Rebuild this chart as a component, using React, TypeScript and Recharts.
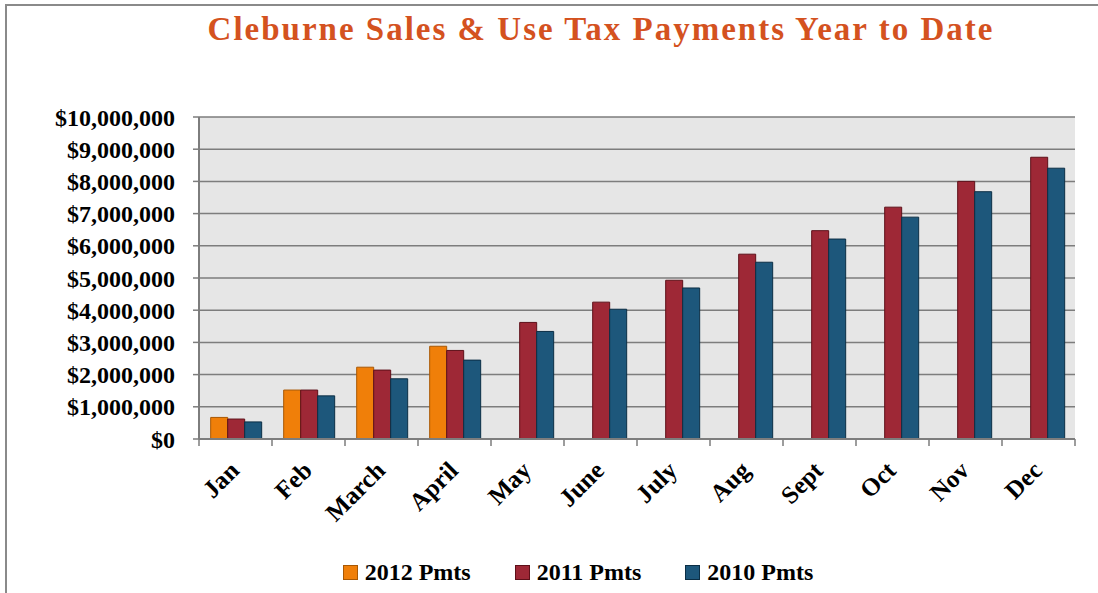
import React from 'react';
import { BarChart, Bar, XAxis, YAxis, CartesianGrid } from 'recharts';

const months = ['Jan', 'Feb', 'March', 'April', 'May', 'June', 'July', 'Aug', 'Sept', 'Oct', 'Nov', 'Dec'];
const pmts2012 = [670000, 1520000, 2230000, 2880000, null, null, null, null, null, null, null, null];
const pmts2011 = [620000, 1520000, 2140000, 2750000, 3620000, 4250000, 4930000, 5740000, 6470000, 7200000, 8000000, 8750000];
const pmts2010 = [530000, 1340000, 1870000, 2450000, 3340000, 4030000, 4690000, 5490000, 6210000, 6890000, 7680000, 8410000];
const yTicks = [0, 1000000, 2000000, 3000000, 4000000, 5000000, 6000000, 7000000, 8000000, 9000000, 10000000];

const series = [
  { key: 'p2012', name: '2012 Pmts', fill: '#F07F09', stroke: '#A85804' },
  { key: 'p2011', name: '2011 Pmts', fill: '#9E2836', stroke: '#5E1019' },
  { key: 'p2010', name: '2010 Pmts', fill: '#1D577B', stroke: '#0B2E45' },
];

const data = months.map((month, i) => ({
  month,
  idx: i,
  p2012: pmts2012[i],
  p2011: pmts2011[i],
  p2010: pmts2010[i],
}));

const CHART_W = 1098;
const CHART_H = 593;
const Y_W = 199;
const MARGIN = { top: 117, right: 23, left: 0, bottom: 54 };
const STEP = (CHART_W - MARGIN.left - MARGIN.right - Y_W) / months.length;
const FONT = '"Liberation Serif", "DejaVu Serif", serif';

const fmtMoney = (v: number) => '$' + v.toLocaleString('en-US');

const MonthTick = (props: any) => {
  const { x, y, payload } = props;
  const label = months[payload.value];
  if (!label) return null;
  return (
    <g transform={`translate(${x + STEP / 2 + 5},${y + 26})`}>
      <text textAnchor="end" transform="rotate(-45)" fontFamily={FONT} fontSize={25} fontWeight="bold" fill="#000">
        {label}
      </text>
    </g>
  );
};

const App = () => {
  return (
    <div style={{ position: 'absolute', left: 0, top: 0, width: CHART_W, height: CHART_H, background: '#fff', fontFamily: FONT }}>
      <div style={{ position: 'absolute', left: 5, top: 4, right: 0, bottom: 0, borderTop: '2px solid #8a8a8a', borderLeft: '2px solid #8a8a8a' }} />
      <div style={{ position: 'absolute', left: 0, width: CHART_W, top: 11, textAlign: 'center', paddingLeft: 104, boxSizing: 'border-box', color: '#D4521F', fontSize: 33, letterSpacing: 2, fontWeight: 'bold' }}>
        Cleburne Sales &amp; Use Tax Payments Year to Date
      </div>
      <BarChart
        width={CHART_W}
        height={CHART_H}
        data={data}
        margin={MARGIN}
        barCategoryGap="16%"
        barGap={0}
        style={{ position: 'absolute', left: 0, top: 0 }}
      >
        <CartesianGrid xAxisId="num" vertical={false} fill="#E6E6E6" stroke="#7d7d7d" strokeWidth={1.5} />
        <XAxis xAxisId="cat" dataKey="month" hide height={0} />
        <XAxis
          xAxisId="num"
          type="number"
          dataKey="idx"
          domain={[0, 12]}
          ticks={[0, 1, 2, 3, 4, 5, 6, 7, 8, 9, 10, 11, 12]}
          height={100}
          tickSize={7}
          tickMargin={0}
          tick={<MonthTick />}
          axisLine={{ stroke: '#7d7d7d', strokeWidth: 2 }}
          tickLine={{ stroke: '#7d7d7d', strokeWidth: 1.5 }}
          interval={0}
        />
        <YAxis
          width={Y_W}
          domain={[0, 10000000]}
          ticks={yTicks}
          tickFormatter={fmtMoney}
          tickSize={6}
          tickMargin={18}
          axisLine={{ stroke: '#7d7d7d', strokeWidth: 2 }}
          tickLine={{ stroke: '#7d7d7d', strokeWidth: 1.5 }}
          tick={{ fontFamily: FONT, fontSize: 24, fontWeight: 'bold', fill: '#000' }}
          interval={0}
        />
        {series.map((s) => (
          <Bar
            key={s.key}
            xAxisId="cat"
            dataKey={s.key}
            name={s.name}
            fill={s.fill}
            stroke={s.stroke}
            strokeWidth={1}
            isAnimationActive={false}
          />
        ))}
      </BarChart>
      <div style={{ position: 'absolute', left: 0, width: CHART_W, top: 559, display: 'flex', justifyContent: 'center', paddingLeft: 58, boxSizing: 'border-box', fontSize: 24, fontWeight: 'bold', color: '#000' }}>
        {series.map((s) => (
          <div key={s.key} style={{ display: 'flex', alignItems: 'center', margin: '0 22px' }}>
            <span style={{ display: 'inline-block', width: 13, height: 13, background: s.fill, border: `1px solid ${s.stroke}`, marginRight: 7 }} />
            <span>{s.name}</span>
          </div>
        ))}
      </div>
    </div>
  );
};

export default App;
